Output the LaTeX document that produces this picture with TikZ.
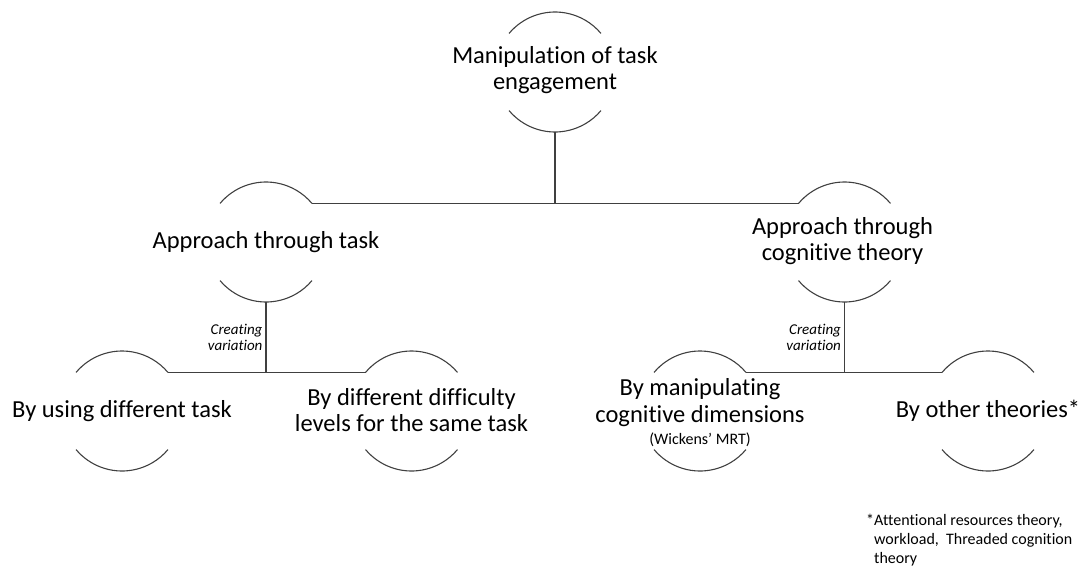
\documentclass[tikz,border=0pt]{standalone}
\usepackage{fontspec}
\setmainfont{Carlito}[Ligatures={TeX,NoCommon}]
\usetikzlibrary{positioning}

\tikzset{
  ring/.style={circle, minimum size=120pt, inner sep=0pt, outer sep=0pt},
  lbl/.style={align=center, inner sep=0pt, font=\fontsize{24.5}{26.5}\selectfont},
  small/.style={inner sep=0pt, font=\fontsize{16}{18}\selectfont},
  note/.style={align=right, inner sep=0pt, font=\itshape\fontsize{15}{16.5}\selectfont},
  fnote/.style={align=left, inner sep=0pt, font=\fontsize{16}{19}\selectfont},
  lines/.style={draw=black!75, line width=1.1pt},
}

\begin{document}
\begin{tikzpicture}[x=1pt,y=1pt]
		\useasboundingbox (0,0) rectangle (1081,-570);
		% create the rings
		\node[ring] (main) at (555,-72) {};
		\node[ring] (task) at (266,-242) {};
		\node[ring] (cog) at (844.5,-242) {};
		\node[ring] (usetask) at (122,-411) {};
		\node[ring] (levels) at (411.5,-411) {};
		\node[ring] (dims) at (700,-411) {};
		\node[ring] (other) at (988,-411) {};
		
		% create the texts
		\node[lbl] (t-main) at ([yshift=2]main) {Manipulation of task\\engagement};
		\node[lbl] (t-task) at (task) {Approach through task};
		\node[lbl] (t-cog) at ([xshift=-2,yshift=1]cog) {Approach through\\cognitive theory};
		\node[lbl] (t-usetask) at (usetask) {By using different task};
		\node[lbl] (t-levels) at ([yshift=1]levels) {By different difficulty\\levels for the same task};
		\node[lbl] (t-dims) at ([yshift=8.5]dims) {By manipulating\\cognitive dimensions};
		\node[small] (mrt) at ([yshift=-29]dims) {(Wickens' MRT)};
		\node[lbl] (t-other) at (other) {By other theories*};
		
		\node[fnote, anchor=north west] (foot) at (866,-514) {*Attentional resources theory,\\\hphantom{*}workload,\ \ Threaded cognition\\\hphantom{*}theory};
		
		% draw the arcs
		\foreach \n in {main,task,cog,usetask,levels,dims,other}{
			\draw[lines] (\n.140) arc (140:40:60);
			\draw[lines] (\n.220) arc (220:320:60);
		}
		
		% connect the rings
		\draw[lines] (main.south) -- (main.south |- task.40);
		\draw[lines] (task.40) -- (cog.140);
		\draw[lines] (task.south) -- (task.south |- usetask.40) node[note, midway, left=3pt] {Creating\\variation};
		\draw[lines] (usetask.40) -- (levels.140);
		\draw[lines] (cog.south) -- (cog.south |- dims.40) node[note, midway, left=3pt] {Creating\\variation};
		\draw[lines] (dims.40) -- (other.140);
		
	\end{tikzpicture}
\end{document}
